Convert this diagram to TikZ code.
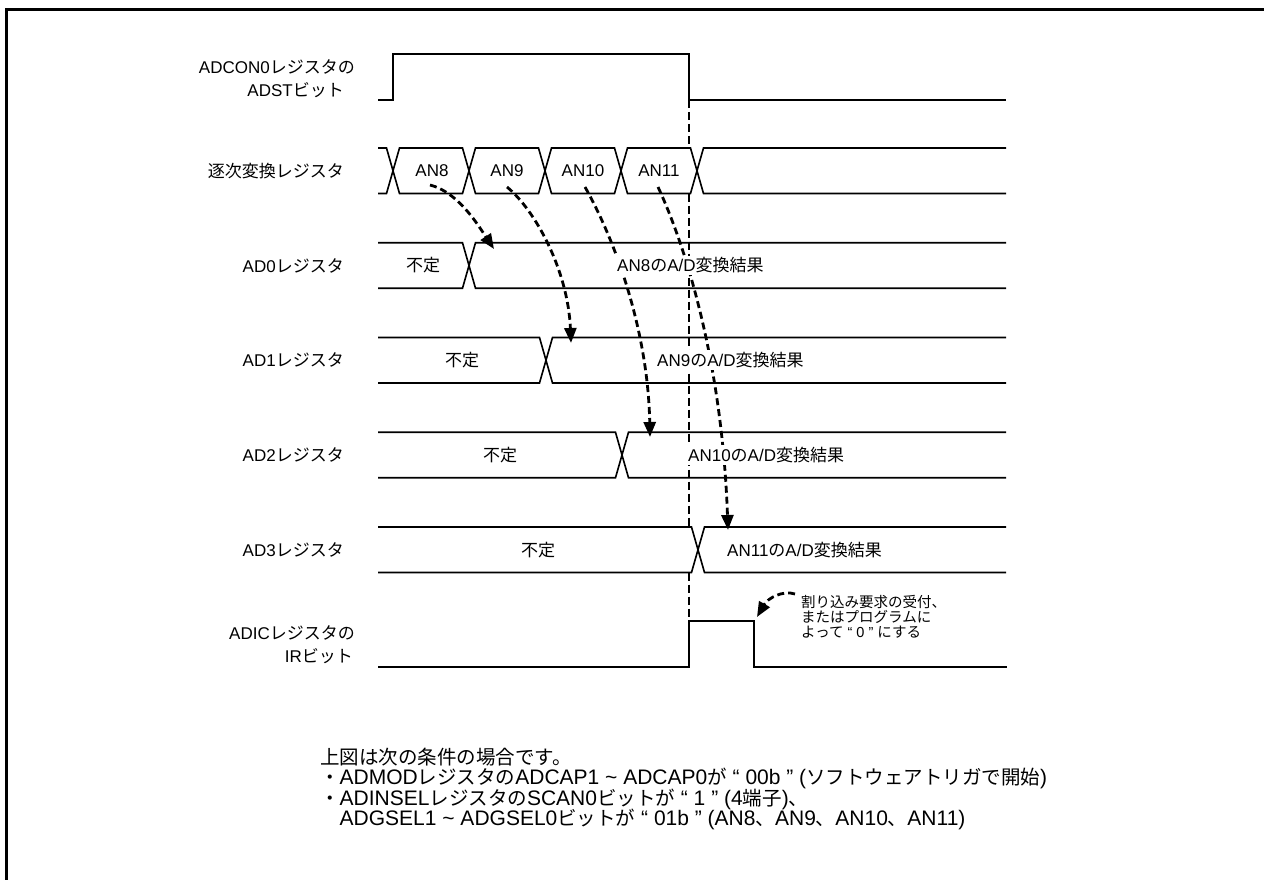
\documentclass[tikz,border=0pt]{standalone}
\usepackage{fontspec}
\setmainfont{Liberation Sans}
\newfontfamily\jpf{Noto Sans CJK JP}
\usetikzlibrary{arrows.meta}
\newcommand\JP[1]{{\jpf #1}}
\newcommand\JB[1]{{\jpf\fontsize{19.5}{20}\selectfont #1}}
\begin{document}
\begin{tikzpicture}[x=1pt,y=-1pt,
  frame/.style={line width=3pt},
  sig/.style={line width=1.6pt, line join=miter},
  vdash/.style={line width=2.8pt, dash pattern=on 8pt off 4pt},
  flow/.style={line width=2.8pt, dash pattern=on 7pt off 4pt, -{Triangle[length=15pt,width=12pt]}},
  lbl/.style={font=\fontsize{17}{20}\selectfont, inner sep=0pt, anchor=east},
  val/.style={font=\fontsize{17}{20}\selectfont, inner sep=0pt},
  res/.style={font=\fontsize{17}{20}\selectfont, fill=white, inner xsep=3pt, inner ysep=2pt, anchor=west},
  note/.style={font=\fontsize{14.5}{15}\selectfont, align=left, anchor=west, inner sep=0pt},
  bt/.style={font=\fontsize{21}{20}\selectfont, anchor=base west, inner sep=0pt}]
\useasboundingbox (0,0) rectangle (1264,880);
\draw[frame] (6.3,880) -- (6.3,9.5) -- (1264,9.5);

% labels
\node[lbl] (lADCON) at (355,67) {ADCON0\JP{レジスタの}};
\node[lbl] (lADST) at (344,90) {ADST\JP{ビット}};
\node[lbl] (lSAR) at (344,171) {\JP{逐次変換レジスタ}};
\node[lbl] (lAD0) at (344,265.5) {AD0\JP{レジスタ}};
\node[lbl] (lAD1) at (344,360.25) {AD1\JP{レジスタ}};
\node[lbl] (lAD2) at (344,455) {AD2\JP{レジスタ}};
\node[lbl] (lAD3) at (344,549.75) {AD3\JP{レジスタ}};
\node[lbl] (lADIC) at (355,633) {ADIC\JP{レジスタの}};
\node[lbl] (lIR) at (353,656) {IR\JP{ビット}};

% dashed vertical
\draw[vdash] (689,100) -- (689,148);
\draw[vdash] (689,193.5) -- (689,527);
\draw[vdash] (689,572.5) -- (689,621);

% transfer arrows
\coordinate (s8) at (430,185); \coordinate (e8) at (494,249);
\coordinate (s9) at (507,187); \coordinate (e9) at (571,343);
\coordinate (s10) at (585,187); \coordinate (e10) at (650,437);
\coordinate (s11) at (658,187); \coordinate (e11) at (728,530);
\draw[flow] (s8) .. controls (458,192) and (478,225) .. (e8);
\draw[flow] (s9) .. controls (535,210) and (568,270) .. (e9);
\draw[flow] (s10) .. controls (615,240) and (648,330) .. (e10);
\draw[flow] (s11) .. controls (685,245) and (722,360) .. (e11);

% ADST
\draw[sig] (378,100) -- (393,100) -- (393,54) -- (689,54) -- (689,100) -- (1006,100);
% successive approximation register
\draw[sig] (378,148) -- (386.5,148) -- (399.5,193.5) -- (462.5,193.5) -- (475.5,148) -- (538.5,148) -- (551.5,193.5) -- (614.5,193.5) -- (627.5,148) -- (690.5,148) -- (703.5,193.5) -- (1006,193.5);
\draw[sig] (378,193.5) -- (386.5,193.5) -- (399.5,148) -- (462.5,148) -- (475.5,193.5) -- (538.5,193.5) -- (551.5,148) -- (614.5,148) -- (627.5,193.5) -- (690.5,193.5) -- (703.5,148) -- (1006,148);
% AD registers
\foreach \t/\c in {242.75/469, 337.5/546, 432.25/622, 527/698}{
  \draw[sig] (378,\t) -- (\c-6.5,\t) -- (\c+6.5,\t+45.5) -- (1006,\t+45.5);
  \draw[sig] (378,\t+45.5) -- (\c-6.5,\t+45.5) -- (\c+6.5,\t) -- (1006,\t);
}
% IR
\draw[sig] (378,667) -- (689,667) -- (689,621) -- (754,621) -- (754,667) -- (1007,667);

% values
\node[val] (n8) at (432,171) {AN8};
\node[val] (n9) at (507,171) {AN9};
\node[val] (n10) at (583,171) {AN10};
\node[val] (n11) at (659,171) {AN11};
\node[val] (u0) at (423,265.5) {\JP{不定}};
\node[val] (u1) at (462,360.25) {\JP{不定}};
\node[val] (u2) at (500,455) {\JP{不定}};
\node[val] (u3) at (538,549.75) {\JP{不定}};
\node[res] (r0) at (614,265.5) {AN8\JP{の}A/D\JP{変換結果}};
\node[res] (r1) at (654,360.25) {AN9\JP{の}A/D\JP{変換結果}};
\node[res] (r2) at (685,455) {AN10\JP{の}A/D\JP{変換結果}};
\node[res] (r3) at (724,549.75) {AN11\JP{の}A/D\JP{変換結果}};

% IR note
\coordinate (ns) at (795,594); \coordinate (ne) at (757,617);
\draw[flow] (ns) .. controls (783,590) and (768,598) .. (ne);
\node[note] (nt) at (801,617) {\JP{割り込み要求の受付、}\\\JP{またはプログラムに}\\\JP{よって}\ “ 0 ” \JP{にする}};

% bottom notes (baselines)
\node[bt] (b1) at (320,764) {\JB{上図は次の条件の場合です。}};
\node[bt] (b2) at (320,784.5) {\JB{・}ADMOD\JB{レジスタの}ADCAP1 \textasciitilde{} ADCAP0\JB{が} “ 00b ” (\JB{ソフトウェアトリガで開始})};
\node[bt] (b3) at (320,805) {\JB{・}ADINSEL\JB{レジスタの}SCAN0\JB{ビットが} “ 1 ” (4\JB{端子})\JB{、}};
\node[bt] (b4) at (339.5,825.5) {ADGSEL1 \textasciitilde{} ADGSEL0\JB{ビットが} “ 01b ” (AN8\JB{、}AN9\JB{、}AN10\JB{、}AN11)};
\end{tikzpicture}
\end{document}
